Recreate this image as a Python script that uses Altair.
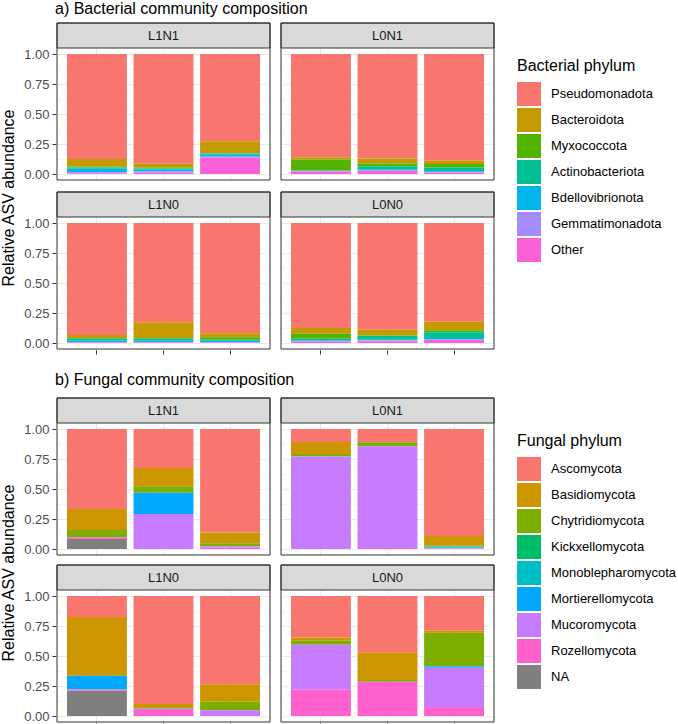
import altair as alt
import pandas as pd

FONT = "Liberation Sans"
TREATMENTS = ["L1N1", "L0N1", "L1N0", "L0N0"]
SAMPLES = ["S1", "S2", "S3"]
YTITLE = "Relative ASV abundance"

# ---- Bacterial data (order: L1N1 S1-3, L0N1 S1-3, L1N0 S1-3, L0N0 S1-3)
BACT_PHYLA = ["Pseudomonadota", "Bacteroidota", "Myxococcota", "Actinobacteriota",
              "Bdellovibrionota", "Gemmatimonadota", "Other"]
BACT_COLORS = ["#F8766D", "#C49A00", "#53B400", "#00C094", "#00B6EB", "#A58AFF", "#FB61D7"]
pseudomonadota = [0.875, 0.915, 0.727, 0.860, 0.870, 0.889, 0.933, 0.828, 0.918, 0.875, 0.890, 0.822]
bacteroidota = [0.065, 0.030, 0.100, 0.020, 0.045, 0.028, 0.025, 0.130, 0.035, 0.047, 0.047, 0.072]
myxococcota = [0.006, 0.010, 0.003, 0.090, 0.020, 0.028, 0.007, 0.007, 0.020, 0.042, 0.005, 0.017]
actinobacteriota = [0.010, 0.010, 0.010, 0.003, 0.030, 0.033, 0.015, 0.015, 0.008, 0.014, 0.030, 0.047]
bdellovibrionota = [0.030, 0.015, 0.017, 0.002, 0.005, 0.008, 0.011, 0.011, 0.010, 0.005, 0.008, 0.012]
gemmatimonadota = [0.008, 0.010, 0.005, 0.005, 0.005, 0.004, 0.004, 0.004, 0.004, 0.005, 0.005, 0.005]
bact_other = [0.006, 0.010, 0.138, 0.020, 0.025, 0.010, 0.005, 0.005, 0.005, 0.012, 0.015, 0.025]
BACT_VALUES = [pseudomonadota, bacteroidota, myxococcota, actinobacteriota,
               bdellovibrionota, gemmatimonadota, bact_other]

# ---- Fungal data
FUNG_PHYLA = ["Ascomycota", "Basidiomycota", "Chytridiomycota", "Kickxellomycota",
              "Monoblepharomycota", "Mortierellomycota", "Mucoromycota", "Rozellomycota", "NA"]
FUNG_COLORS = ["#F8766D", "#CD9600", "#7CAE00", "#00BE67", "#00BFC4", "#00A9FF",
               "#C77CFF", "#FF61CC", "#7F7F7F"]
ascomycota = [0.667, 0.325, 0.863, 0.108, 0.108, 0.892, 0.175, 0.900, 0.736, 0.345, 0.472, 0.290]
basidiomycota = [0.175, 0.153, 0.090, 0.100, 0.003, 0.078, 0.490, 0.035, 0.143, 0.028, 0.227, 0.017]
chytridiomycota = [0.061, 0.053, 0.025, 0.022, 0.033, 0.010, 0.000, 0.005, 0.074, 0.033, 0.016, 0.279]
kickxellomycota = [0, 0, 0, 0, 0, 0.006, 0, 0, 0, 0, 0, 0]
monoblepharomycota = [0, 0, 0, 0, 0, 0.002, 0, 0, 0, 0, 0, 0]
mortierellomycota = [0, 0.177, 0, 0, 0, 0.005, 0.115, 0, 0, 0, 0, 0.011]
mucoromycota = [0, 0.292, 0.012, 0.770, 0.848, 0.004, 0, 0.010, 0.047, 0.376, 0, 0.328]
rozellomycota = [0.014, 0, 0.010, 0, 0.008, 0.003, 0.010, 0.050, 0, 0.218, 0.285, 0.075]
fung_na = [0.083, 0, 0, 0, 0, 0, 0.210, 0, 0, 0, 0, 0]
FUNG_VALUES = [ascomycota, basidiomycota, chytridiomycota, kickxellomycota,
               monoblepharomycota, mortierellomycota, mucoromycota, rozellomycota, fung_na]

W = 213
STRIP = 25
PLOT = 132
H = STRIP + PLOT
PX_PER_UNIT = 120.0
Y_DOMAIN = [-0.05, 1.05 + STRIP / PX_PER_UNIT]


def make_df(phyla, values):
    rows = []
    for i, (p, arr) in enumerate(zip(phyla, values)):
        for t_i, t in enumerate(TREATMENTS):
            for s_i, s in enumerate(SAMPLES):
                rows.append({"treatment": t, "L": t[:2], "N": t[2:], "sample": s,
                             "phylum": p, "idx": i, "value": arr[t_i * 3 + s_i]})
    return pd.DataFrame(rows)


minor_test = "(datum.value * 4) % 1 != 0"


def section(df, phyla, colors, legend_title, title, title_offset, row_spacing):
    base = alt.Chart()
    bars = base.mark_bar().encode(
        x=alt.X("sample:N", sort=SAMPLES,
                scale=alt.Scale(paddingInner=0.1, paddingOuter=0.15),
                axis=alt.Axis(labels=False, title=None, domain=False, ticks=True,
                              tickSize=4, tickColor="#333333", grid=True,
                              gridColor="#EBEBEB", bandPosition=0.5)),
        y=alt.Y("value:Q", stack="zero",
                scale=alt.Scale(domain=Y_DOMAIN, nice=False, zero=False),
                axis=alt.Axis(values=[0, 0.125, 0.25, 0.375, 0.5, 0.625, 0.75, 0.875, 1.0],
                              labelExpr="(datum.value * 4) % 1 == 0 ? format(datum.value, '.2f') : ''",
                              title=None, domain=False, tickSize=4, tickColor="#333333",
                              tickOpacity={"condition": {"test": minor_test, "value": 0}, "value": 1},
                              gridColor="#EBEBEB",
                              gridWidth={"condition": {"test": minor_test, "value": 0.5}, "value": 1},
                              labelColor="#4D4D4D", labelFontSize=13, labelPadding=3)),
        color=alt.Color("phylum:N", sort=phyla,
                        scale=alt.Scale(domain=phyla, range=colors),
                        legend=alt.Legend(title=legend_title, orient="none",
                                          legendX=517, legendY=35,
                                          symbolType="square", symbolSize=576,
                                          symbolStrokeWidth=0, rowPadding=2,
                                          labelFontSize=13, labelColor="black",
                                          titleFontSize=16, titleFontWeight="normal",
                                          titleColor="black", labelOffset=10,
                                          titlePadding=8)),
        order=alt.Order("idx:Q", sort="descending"),
    )
    filt = "datum.idx == 0 && datum.sample == 'S1'"
    strip = base.mark_rect(fill="#D9D9D9", stroke="#333333", strokeWidth=1).encode(
        x=alt.value(0), x2=alt.value(W), y=alt.value(0), y2=alt.value(STRIP)
    ).transform_filter(filt)
    border = base.mark_rect(fillOpacity=0, stroke="#333333", strokeWidth=1).encode(
        x=alt.value(0), x2=alt.value(W), y=alt.value(0), y2=alt.value(H)
    ).transform_filter(filt)
    label = base.mark_text(fontSize=13, color="#1A1A1A", baseline="middle").encode(
        text="treatment:N", x=alt.value(W / 2), y=alt.value(STRIP / 2 + 0.5)
    ).transform_filter(filt)
    layered = alt.layer(bars, strip, border, label).properties(width=W, height=H)
    fac = layered.facet(
        row=alt.Row("N:N", sort=["N1", "N0"], header=alt.Header(labels=False, title=None)),
        column=alt.Column("L:N", sort=["L1", "L0"], header=alt.Header(labels=False, title=None)),
        data=df, spacing={"row": row_spacing, "column": 9},
    )
    ytitle = alt.Chart(pd.DataFrame({"t": [YTITLE]})).mark_text(
        angle=270, fontSize=16, color="black", baseline="middle", align="center"
    ).encode(text="t:N", x=alt.value(8.5), y=alt.value(175)).properties(
        width=17, height=2 * H + row_spacing)
    return alt.hconcat(ytitle, fac, spacing=6).properties(
        title=alt.TitleParams(title, anchor="start", fontSize=16, fontWeight="normal",
                              color="black", dx=55, offset=title_offset)
    )


bact_df = make_df(BACT_PHYLA, BACT_VALUES)
fung_df = make_df(FUNG_PHYLA, FUNG_VALUES)

secA = section(bact_df, BACT_PHYLA, BACT_COLORS, "Bacterial phylum",
               "a) Bacterial community composition", 6, 10)
secB = section(fung_df, FUNG_PHYLA, FUNG_COLORS, "Fungal phylum",
               "b) Fungal community composition", 10, 8)

chart = alt.vconcat(secA, secB, spacing=16).resolve_scale(color="independent").properties(
    padding={"left": 0, "top": 0, "right": 0, "bottom": 0}
).configure(font=FONT, background="white").configure_view(strokeOpacity=0)

chart.save("out.html", embed_options={"renderer": "svg", "actions": False})
